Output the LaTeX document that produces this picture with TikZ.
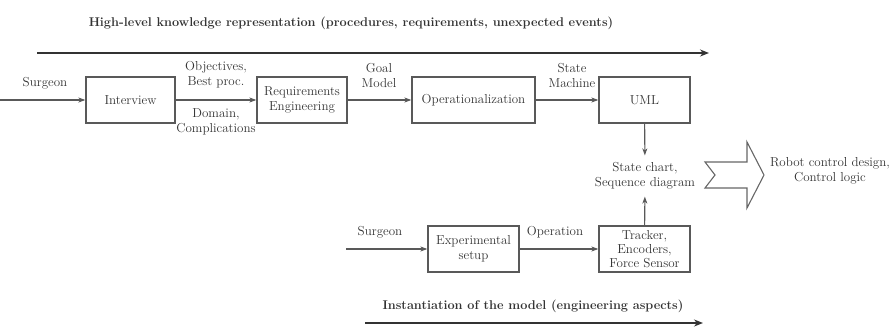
\documentclass[tikz,border=0pt]{standalone}
\usetikzlibrary{arrows.meta}
\begin{document}
\begin{tikzpicture}[x=1pt,y=-1pt,
  every node/.style={font=\fontsize{13}{15}\selectfont, text=black!80},
  block/.style={draw=black!65, line width=1.3pt, minimum height=46pt, align=center, inner sep=2pt},
  flow/.style={draw=black!65, line width=1.1pt, -{Stealth[length=7pt,width=5pt,inset=2pt]}},
  axis/.style={draw=black!80, line width=2.2pt, -{Stealth[length=9pt,width=7pt]}},
  lbl/.style={align=center, inner sep=1pt},
  title/.style={font=\fontsize{12.7}{15}\selectfont\bfseries}]
\useasboundingbox (0,0) rectangle (892,331);

% upper band: knowledge representation
\node[title] (toptitle) at (351,23) {High-level knowledge representation (procedures, requirements, unexpected events)};
\coordinate (topA) at (37,53);
\coordinate (topB) at (709,53);
\draw[axis] (topA) -- (topB);

\coordinate (in1) at (0,100);
\node[block, minimum width=89pt] (interview) at (130.5,100) {Interview};
\node[block, minimum width=90pt] (req) at (302,100) {Requirements\\Engineering};
\node[block, minimum width=123pt] (oper) at (473.5,100) {Operationalization};
\node[block, minimum width=91pt] (uml) at (644.5,100) {UML};

\draw[flow] (in1) -- (interview);
\draw[flow] (interview) -- (req);
\draw[flow] (req) -- (oper);
\draw[flow] (oper) -- (uml);

\node[lbl] (surg1) at (45,83) {Surgeon};
\node[lbl] (obj) at (216,75) {Objectives,\\Best proc.};
\node[lbl] (dom) at (216,122) {Domain,\\Complications};
\node[lbl] (goal) at (379,75) {Goal\\Model};
\node[lbl] (sm) at (572,75) {State\\Machine};

% outputs of the model
\node[lbl, inner ysep=7pt] (chart) at (645,176) {State chart,\\Sequence diagram};
\draw[flow] (uml) -- (chart);

\coordinate (bigA) at (705,162);
\draw[draw=black!60, line width=1.1pt, line join=miter]
  (bigA) -- (747,162) -- (747,142) -- (764,175) -- (747,208) -- (747,188)
  -- (705,188) -- (715,175) -- cycle;
\node[lbl] (robot) at (830,171) {Robot control design,\\Control logic};

% lower band: engineering instantiation
\coordinate (in2) at (346,249);
\node[block, minimum width=91pt] (exp) at (473.5,249) {Experimental\\setup};
\node[block, minimum width=91pt, font=\fontsize{13}{14}\selectfont] (track) at (644.5,249) {Tracker,\\Encoders,\\Force Sensor};
\draw[flow] (in2) -- (exp);
\draw[flow] (exp) -- (track);
\draw[flow] (track) -- (chart);

\node[lbl] (surg2) at (380,232) {Surgeon};
\node[lbl] (op) at (555,232) {Operation};

\node[title] (bottitle) at (533,306) {Instantiation of the model (engineering aspects)};
\coordinate (botA) at (365,323);
\coordinate (botB) at (703,323);
\draw[axis] (botA) -- (botB);
\end{tikzpicture}
\end{document}
